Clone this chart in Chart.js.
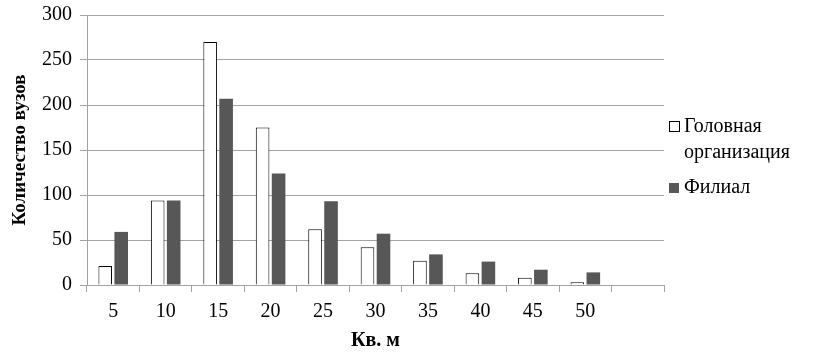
<!DOCTYPE html>
<html><head><meta charset="utf-8">
<script src="https://cdn.jsdelivr.net/npm/chart.js@4"></script>
<style>html,body{margin:0;padding:0;background:#fff}#wrap{width:817px;height:364px}</style>
</head><body><div id="wrap"><canvas id="c" width="817" height="364"></canvas></div>
<script>
const categories = ['5','10','15','20','25','30','35','40','45','50',''];
const headOffice = [21,94,270,175,62,42,27,13,8,3,null];
const branch = [59,94,207,124,93,57,34,26,17,14,null];
const yTicks = [0,50,100,150,200,250,300];
const seriesNames = ['Головная организация','Филиал'];
const legendLines = [['Головная','организация'],['Филиал']];
const xTitle = 'Кв. м';
const yTitle = 'Количество вузов';

const FONT = '"Liberation Serif", "Times New Roman", serif';
const GRID = '#a3a3a3';

const legendPlugin = {
  id: 'customLegend',
  afterDraw(chart) {
    const ctx = chart.ctx;
    ctx.save();
    ctx.font = '20px ' + FONT;
    ctx.textBaseline = 'middle';
    ctx.textAlign = 'left';
    const ds = chart.data.datasets;
    const pos = [{sq: 121, lines: [127, 153]}, {sq: 183, lines: [188]}];
    ds.forEach((d, i) => {
      const p = pos[i];
      ctx.fillStyle = d.backgroundColor;
      ctx.fillRect(669, p.sq, 10, 10);
      if (d.borderWidth) {
        ctx.strokeStyle = d.borderColor;
        ctx.lineWidth = 1;
        ctx.strokeRect(669.5, p.sq + 0.5, 10, 10);
      }
      ctx.fillStyle = '#000';
      legendLines[i].forEach((t, j) => ctx.fillText(t, 684, p.lines[j]));
    });
    ctx.restore();
  }
};

new Chart(document.getElementById('c'), {
  type: 'bar',
  data: {
    labels: categories,
    datasets: [
      {label: seriesNames[0], data: headOffice, backgroundColor: '#ffffff', borderColor: '#000000', borderWidth: 1,
       categoryPercentage: 0.61, barPercentage: 0.85},
      {label: seriesNames[1], data: branch, backgroundColor: '#575757', borderWidth: 0,
       categoryPercentage: 0.61, barPercentage: 0.85}
    ]
  },
  options: {
    responsive: false,
    devicePixelRatio: 1,
    animation: false,
    layout: {padding: {top: 15, right: 153, left: 0, bottom: 0}},
    plugins: {legend: {display: false}, tooltip: {enabled: false}},
    scales: {
      x: {
        grid: {display: true, drawOnChartArea: false, drawTicks: true, tickLength: 7, color: GRID, offset: true},
        border: {display: true, color: GRID},
        ticks: {font: {family: FONT, size: 20}, color: '#000', padding: 8, maxRotation: 0, autoSkip: false},
        title: {display: true, text: xTitle, font: {family: FONT, size: 20, weight: 'bold'}, color: '#000', padding: {top: 4, bottom: 11}},
        afterFit(s) { s.height = 79; s.paddingLeft = 0; s.paddingRight = 0; }
      },
      y: {
        min: 0, max: 300,
        afterBuildTicks(s) { s.ticks = yTicks.map(v => ({value: v})); },
        grid: {color: GRID, tickLength: 7},
        border: {display: true, color: GRID},
        ticks: {font: {family: FONT, size: 20}, color: '#000', padding: 8},
        title: {display: true, text: yTitle, font: {family: FONT, size: 19, weight: 'bold'}, color: '#000', padding: {top: 9, bottom: 0}},
        afterFit(s) { s.width = 87; s.paddingTop = 0; s.paddingBottom = 0; }
      }
    }
  },
  plugins: [legendPlugin]
});
</script>
</body></html>
